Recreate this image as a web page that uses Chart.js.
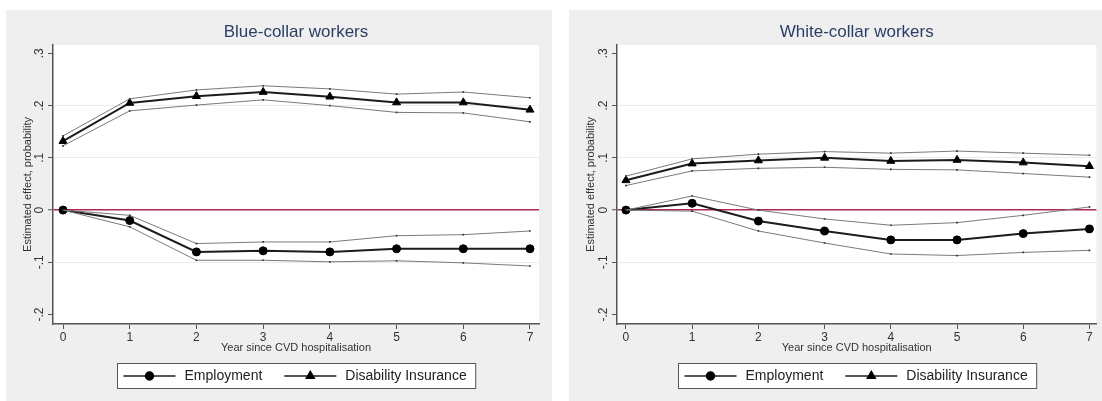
<!DOCTYPE html>
<html>
<head>
<meta charset="utf-8">
<script src="https://cdn.jsdelivr.net/npm/chart.js@4.4.1/dist/chart.umd.min.js"></script>
<style>
  body { margin: 0; background: #fff; width: 1102px; height: 401px; overflow: hidden; position: relative; }
  .panel { position: absolute; top: 10px; height: 391px; background: #efefef; }
  #leftPanel { left: 6px; width: 546px; }
  #rightPanel { left: 569px; width: 533px; }
  canvas { display: block; }
</style>
</head>
<body>
<div class="panel" id="leftPanel"><canvas id="blueChart" width="546" height="391"></canvas></div>
<div class="panel" id="rightPanel"><canvas id="whiteChart" width="533" height="391"></canvas></div>
<script>
// years since hospitalisation (x axis)
const years = [0, 1, 2, 3, 4, 5, 6, 7];
const yTicks = [-0.2, -0.1, 0, 0.1, 0.2, 0.3];
const yTickLabels = ['-.2', '-.1', '0', '.1', '.2', '.3'];

// Blue-collar workers
const blueEmp   = [0, -0.020, -0.080, -0.078, -0.080, -0.074, -0.074, -0.074];
const blueEmpHi = [0, -0.010, -0.064, -0.061, -0.061, -0.049, -0.047, -0.040];
const blueEmpLo = [0, -0.032, -0.096, -0.096, -0.099, -0.097, -0.101, -0.107];
const blueDI    = [0.132, 0.205, 0.218, 0.226, 0.217, 0.206, 0.206, 0.192];
const blueDIHi  = [0.142, 0.213, 0.230, 0.238, 0.232, 0.222, 0.226, 0.215];
const blueDILo  = [0.123, 0.190, 0.201, 0.211, 0.200, 0.187, 0.186, 0.169];

// White-collar workers
const whiteEmp   = [0, 0.013, -0.021, -0.040, -0.057, -0.057, -0.045, -0.036];
const whiteEmpHi = [0, 0.027, 0.000, -0.017, -0.029, -0.024, -0.010, 0.006];
const whiteEmpLo = [0, -0.002, -0.040, -0.063, -0.084, -0.087, -0.081, -0.077];
const whiteDI    = [0.057, 0.089, 0.095, 0.100, 0.094, 0.096, 0.091, 0.084];
const whiteDIHi  = [0.065, 0.098, 0.107, 0.112, 0.109, 0.113, 0.109, 0.105];
const whiteDILo  = [0.047, 0.075, 0.080, 0.082, 0.078, 0.077, 0.070, 0.063];

const FONT = '"Liberation Sans", Arial, sans-serif';

function points(values) {
  return years.map((x, i) => ({x: x, y: values[i]}));
}

function ciSet(values) {
  return {
    label: '',
    data: points(values),
    borderColor: '#7a7a7a',
    borderWidth: 1,
    pointStyle: 'rect',
    pointRadius: 1.2,
    pointBackgroundColor: '#333',
    pointBorderWidth: 0,
    tension: 0
  };
}

function mainSet(label, values, style, radius) {
  return {
    label: label,
    data: points(values),
    borderColor: '#1c1c1c',
    borderWidth: 2,
    pointStyle: style,
    pointRadius: radius,
    pointBackgroundColor: '#000',
    pointBorderColor: '#000',
    pointBorderWidth: 1,
    tension: 0
  };
}

// white plot region + boxed stata-style legend
const panelPlugin = {
  id: 'panelPlugin',
  beforeDraw(chart) {
    const a = chart.chartArea;
    const ctx = chart.ctx;
    ctx.save();
    ctx.fillStyle = '#fff';
    ctx.fillRect(a.left, a.top, a.right - a.left, a.bottom - a.top);
    ctx.restore();
  },
  afterDraw(chart) {
    const a = chart.chartArea;
    const ctx = chart.ctx;
    const items = [chart.data.datasets[5], chart.data.datasets[2]];
    ctx.save();
    ctx.font = '14px ' + FONT;
    const w1 = ctx.measureText(items[0].label).width;
    const w2 = ctx.measureText(items[1].label).width;
    const total = 6 + 52 + 9 + w1 + 22 + 52 + 9 + w2 + 9;
    const left = Math.round((a.left + a.right) / 2 - total / 2) + 0.5;
    const top = a.bottom + 39.5;
    const h = 25;
    ctx.fillStyle = '#fff';
    ctx.fillRect(left, top, total, h);
    ctx.strokeStyle = '#555';
    ctx.lineWidth = 1;
    ctx.strokeRect(left, top, total, h);
    const cy = top + h / 2;
    let x = left + 6;
    items.forEach(function (ds, i) {
      ctx.strokeStyle = '#1c1c1c';
      ctx.lineWidth = 1.5;
      ctx.beginPath();
      ctx.moveTo(x, cy);
      ctx.lineTo(x + 52, cy);
      ctx.stroke();
      ctx.fillStyle = '#000';
      ctx.strokeStyle = '#000';
      Chart.helpers.drawPoint(ctx, {pointStyle: ds.pointStyle, radius: ds.pointRadius, rotation: 0, borderWidth: 1}, x + 26, cy);
      ctx.fillStyle = '#222';
      ctx.textBaseline = 'middle';
      ctx.textAlign = 'left';
      ctx.fillText(ds.label, x + 61, cy + 0.5);
      x += 61 + (i === 0 ? w1 + 22 : 0);
    });
    ctx.restore();
  }
};

function makeChart(id, title, emp, empHi, empLo, di, diHi, diLo, xMin, xMax, yWidth, rightPad) {
  const ctx = document.getElementById(id).getContext('2d');
  return new Chart(ctx, {
    type: 'line',
    data: {
      datasets: [
        ciSet(diHi), ciSet(diLo), mainSet('Disability Insurance', di, 'triangle', 4.6),
        ciSet(empHi), ciSet(empLo), mainSet('Employment', emp, 'circle', 4)
      ]
    },
    options: {
      responsive: false,
      animation: false,
      layout: {padding: {left: 0, right: rightPad, top: 0, bottom: 37}},
      plugins: {
        legend: {display: false},
        tooltip: {enabled: false},
        title: {
          display: true,
          text: title,
          fullSize: false,
          color: '#2b3f66',
          font: {family: FONT, size: 17, weight: 'normal'},
          padding: {top: 12.5, bottom: 2.1}
        }
      },
      scales: {
        x: {
          type: 'linear',
          min: xMin,
          max: xMax,
          afterBuildTicks: function (s) { s.ticks = years.map(v => ({value: v})); },
          afterFit: function (s) { s.height = 40; },
          grid: {drawOnChartArea: false, tickLength: 5, tickColor: '#555', tickWidth: 1},
          border: {color: '#555', width: 1.5},
          ticks: {color: '#333', font: {family: FONT, size: 12}, padding: 1.5, maxRotation: 0, callback: (v) => String(v)},
          title: {display: true, text: 'Year since CVD hospitalisation', color: '#333', font: {family: FONT, size: 11}, padding: {top: 0, bottom: 9}}
        },
        y: {
          min: -0.218,
          max: 0.316,
          afterBuildTicks: function (s) { s.ticks = yTicks.map(v => ({value: v})); },
          afterFit: function (s) { s.width = yWidth; },
          grid: {
            color: function (c) {
              const v = c.tick.value;
              if (Math.abs(v) < 1e-9) return '#b0284f';
              if (v > 0.25 || v < -0.15) return 'rgba(0,0,0,0)';
              return '#e3eef0';
            },
            lineWidth: function (c) { return Math.abs(c.tick.value) < 1e-9 ? 1.5 : 1; },
            tickLength: 5,
            tickColor: '#555',
            tickWidth: 1
          },
          border: {color: '#555', width: 1.5},
          ticks: {
            color: '#333',
            font: {family: FONT, size: 12},
            minRotation: 90,
            maxRotation: 90,
            crossAlign: 'center',
            padding: 1,
            callback: (v, i) => yTickLabels[i]
          },
          title: {display: true, text: 'Estimated effect, probability', color: '#333', font: {family: FONT, size: 11}, padding: {top: 15.5, bottom: 0}}
        }
      }
    },
    plugins: [panelPlugin]
  });
}

makeChart('blueChart', 'Blue-collar workers', blueEmp, blueEmpHi, blueEmpLo, blueDI, blueDIHi, blueDILo, -0.15, 7.135, 47, 13);
makeChart('whiteChart', 'White-collar workers', whiteEmp, whiteEmpHi, whiteEmpLo, whiteDI, whiteDIHi, whiteDILo, -0.135, 7.105, 48, 2);
</script>
</body>
</html>
